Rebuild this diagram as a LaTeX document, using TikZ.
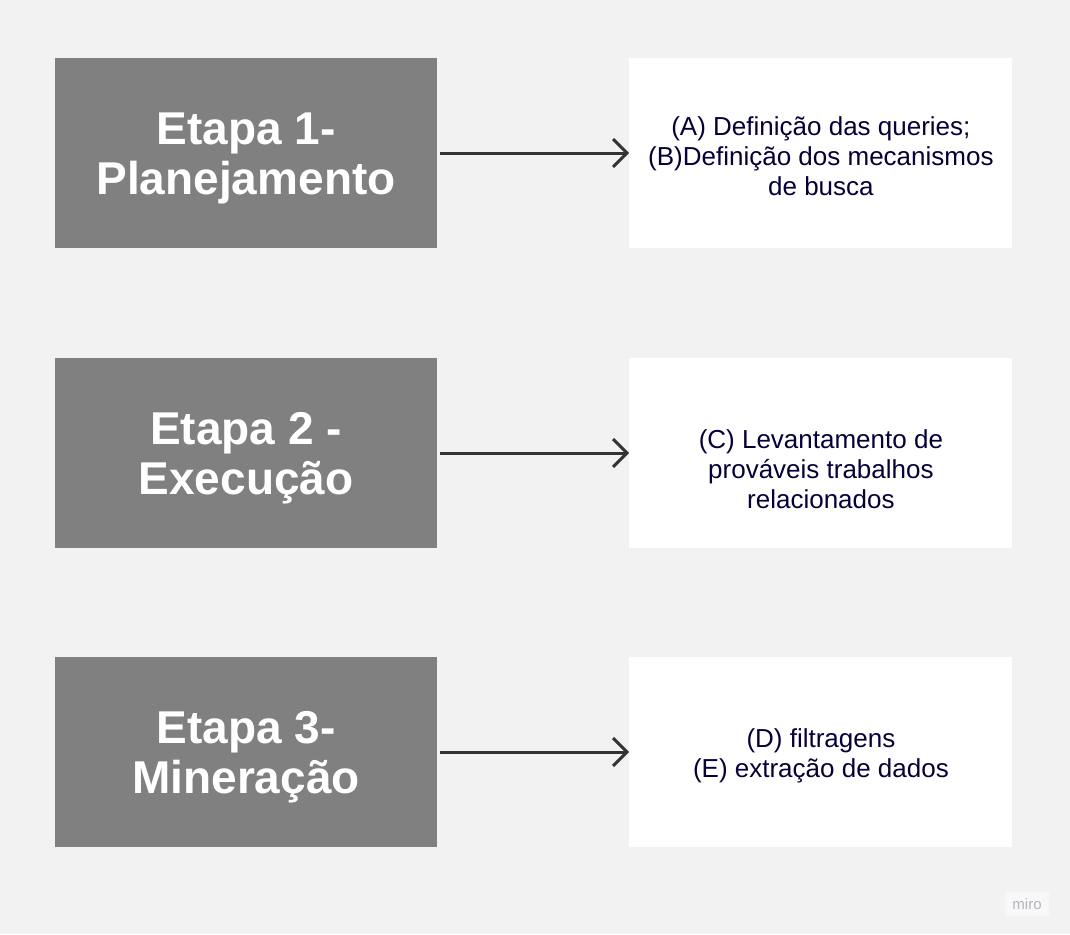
\documentclass[tikz,border=0pt]{standalone}
\usepackage{fontspec}
\setmainfont{Liberation Sans}
\usetikzlibrary{positioning, arrows.meta}

\definecolor{bggray}{HTML}{F2F2F2}
\definecolor{stepgray}{HTML}{808080}
\definecolor{arrowgray}{HTML}{333333}
\definecolor{textnavy}{HTML}{050038}
\definecolor{mirogray}{HTML}{B4B4BE}

\begin{document}
\begin{tikzpicture}[x = 1pt, y = -1pt, > = {Straight Barb[length = 14pt, width = 28pt, line width = 3pt]},
	stagebox/.style = {fill = stepgray, minimum width = 382pt, minimum height = 190pt, inner sep = 0pt,
		text = white, align = center, font = \fontsize{46}{50}\selectfont\bfseries,
		text height = 82pt, text depth = 0pt},
	taskbox/.style = {fill = white, minimum width = 383pt, minimum height = 190pt, inner sep = 0pt,
		text = textnavy, align = center, font = \fontsize{26}{30}\selectfont,
		text height = 84pt, text depth = 0pt},
	link/.style = {->, draw = arrowgray, line width = 3pt}]

% Background

\fill [bggray] (0, 0) rectangle (1070, 934);
\useasboundingbox (0, 0) rectangle (1070, 934);

% Stages

\node [stagebox] (etapa1) at (246, 153) {Etapa 1-\\Planejamento};
\node [stagebox] (etapa2) at (246, 453) {Etapa 2 -\\Execução};
\node [stagebox] (etapa3) at (246, 752) {Etapa 3-\\Mineração};

% Tasks (the middle one sits lower, the last one has two lines)

\node [taskbox, right = 192pt of etapa1] (tarefa1) {(A) Definição das queries;\\(B)Definição dos mecanismos\\de busca};
\node [taskbox, right = 192pt of etapa2, text height = 110pt] (tarefa2) {(C) Levantamento de\\prováveis trabalhos\\relacionados};
\node [taskbox, right = 192pt of etapa3, text height = 50pt] (tarefa3) {(D) filtragens\\(E) extração de dados};

% Arrows

\draw [link] ([xshift = 3pt] etapa1.east) -- (tarefa1.west);
\draw [link] ([xshift = 3pt] etapa2.east) -- (tarefa2.west);
\draw [link] ([xshift = 3pt] etapa3.east) -- (tarefa3.west);

% Watermark

\node [fill = white!45!bggray, text = mirogray, minimum width = 44pt, minimum height = 24pt,
	font = \fontsize{15}{15}\selectfont] (miro) at (1027, 904) {miro};

\end{tikzpicture}
\end{document}
